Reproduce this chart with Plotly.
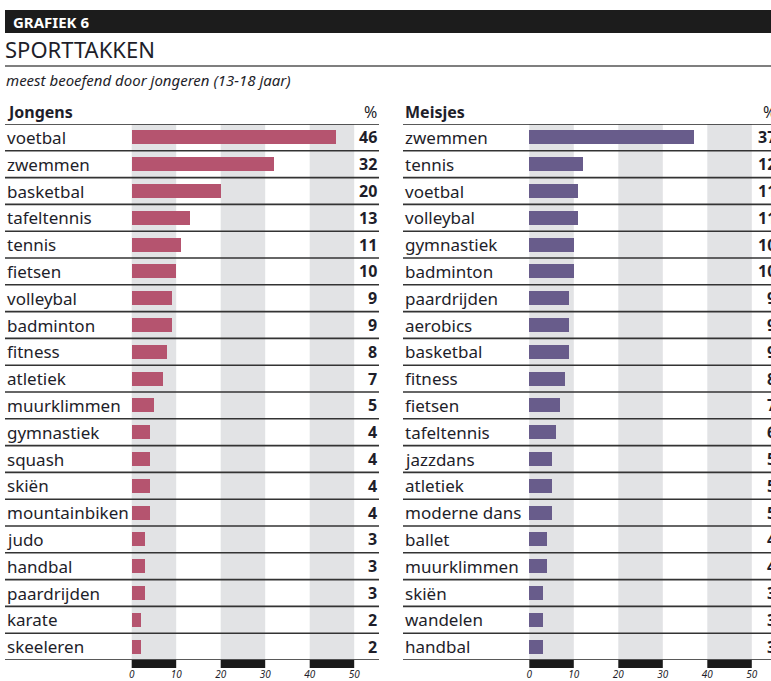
import plotly.graph_objects as go

W, H = 771, 681

boys_cats = ["voetbal", "zwemmen", "basketbal", "tafeltennis", "tennis", "fietsen",
             "volleybal", "badminton", "fitness", "atletiek", "muurklimmen", "gymnastiek",
             "squash", "skiën", "mountainbiken", "judo", "handbal", "paardrijden",
             "karate", "skeeleren"]
boys_vals = [46, 32, 20, 13, 11, 10, 9, 9, 8, 7, 5, 4, 4, 4, 4, 3, 3, 3, 2, 2]

girls_cats = ["zwemmen", "tennis", "voetbal", "volleybal", "gymnastiek", "badminton",
              "paardrijden", "aerobics", "basketbal", "fitness", "fietsen", "tafeltennis",
              "jazzdans", "atletiek", "moderne dans", "ballet", "muurklimmen", "skiën",
              "wandelen", "handbal"]
girls_vals = [37, 12, 11, 11, 10, 10, 9, 9, 9, 8, 7, 6, 5, 5, 5, 4, 4, 3, 3, 3]

tick_vals = [0, 10, 20, 30, 40, 50]
tick_text = ["0", "10", "20", "30", "40", "50"]

PINK = "#b5546f"
PURPLE = "#685c8b"
BAND = "#e2e3e5"
TXT = "#1e1e2a"
FONT = "Noto Sans"


def px(p):
    return p / W


def py(p):
    return 1 - p / H


ydom = [py(660), py(124)]
n = len(boys_cats)
rows = list(range(n))

fig = go.Figure()
fig.add_trace(go.Bar(x=boys_vals, y=rows, orientation="h", marker_color=PINK,
                     marker_line_width=0, width=0.52, xaxis="x", yaxis="y",
                     hoverinfo="skip", showlegend=False))
fig.add_trace(go.Bar(x=girls_vals, y=rows, orientation="h", marker_color=PURPLE,
                     marker_line_width=0, width=0.52, xaxis="x2", yaxis="y2",
                     hoverinfo="skip", showlegend=False))

scale = 4.45
left_dom = [px(5), px(379)]
right_dom = [px(403), 1.0]
left_range = [(5 - 131.7) / scale, (379 - 131.7) / scale]
right_range = [(403 - 529.3) / scale, (771 - 529.3) / scale]

axis_common = dict(showgrid=False, zeroline=False, showline=False, ticks="",
                   tickvals=tick_vals, ticktext=tick_text,
                   tickfont=dict(family=FONT, size=10, color=TXT, style="italic"),
                   ticklabelstandoff=7, fixedrange=True)

fig.update_layout(
    width=W, height=H,
    margin=dict(l=0, r=0, t=0, b=0, autoexpand=False),
    paper_bgcolor="white", plot_bgcolor="rgba(0,0,0,0)",
    bargap=0,
    xaxis=dict(domain=left_dom, range=left_range, anchor="y", **axis_common),
    yaxis=dict(domain=ydom, range=[n - 0.5, -0.5], visible=False, anchor="x"),
    xaxis2=dict(domain=right_dom, range=right_range, anchor="y2", **axis_common),
    yaxis2=dict(domain=ydom, range=[n - 0.5, -0.5], visible=False, anchor="x2"),
)

shapes = []
annotations = []

# header block
shapes.append(dict(type="rect", xref="paper", yref="paper", x0=px(5), x1=1.0,
                   y0=py(33), y1=py(10), fillcolor="#1c1c1c", line_width=0))
shapes.append(dict(type="line", xref="paper", yref="paper", x0=px(5), x1=1.0,
                   y0=py(66), y1=py(66), line=dict(color="#555555", width=1.5)))
annotations.append(dict(text="<b>GRAFIEK 6</b>", xref="paper", yref="paper",
                        x=px(11), y=py(22), xanchor="left", yanchor="middle",
                        showarrow=False, font=dict(family=FONT, size=15, color="white")))
annotations.append(dict(text="SPORTTAKKEN", xref="paper", yref="paper",
                        x=px(3), y=py(49), xanchor="left", yanchor="middle",
                        showarrow=False, font=dict(family=FONT, size=22, color=TXT)))
annotations.append(dict(text="<i>meest beoefend door jongeren (13-18 jaar)</i>",
                        xref="paper", yref="paper", x=px(4), y=py(80),
                        xanchor="left", yanchor="middle", showarrow=False,
                        font=dict(family=FONT, size=15, color=TXT)))

panels = [
    ("x", "y", "Jongens", boys_cats, boys_vals, 5, 379, 379),
    ("x2", "y2", "Meisjes", girls_cats, girls_vals, 403, 771, 778),
]
for xr, yr, title, cats, vals, lx0, lx1, vx in panels:
    annotations.append(dict(text="<b>" + title + "</b>", xref="paper", yref="paper",
                            x=px(lx0), y=py(112), xanchor="left", yanchor="middle",
                            showarrow=False, font=dict(family=FONT, size=16, color=TXT)))
    annotations.append(dict(text="%", xref="paper", yref="paper",
                            x=px(vx), y=py(112), xanchor="right", yanchor="middle",
                            showarrow=False, font=dict(family=FONT, size=16, color=TXT)))
    # grey bands and black bars on the axis
    for b0 in (0, 20, 40):
        shapes.append(dict(type="rect", xref=xr, yref=yr + " domain", x0=b0, x1=b0 + 10,
                           y0=0, y1=1, fillcolor=BAND, line_width=0, layer="below"))
        shapes.append(dict(type="rect", xref=xr, yref="paper", x0=b0, x1=b0 + 10,
                           y0=py(668), y1=py(660), fillcolor="#1a1a1a", line_width=0))
    # row separators
    for i in range(len(cats) + 1):
        shapes.append(dict(type="line", xref="paper", yref=yr, x0=px(lx0), x1=px(lx1),
                           y0=i - 0.5, y1=i - 0.5,
                           line=dict(color="#333333" if 0 < i < len(cats) else "#222222",
                                     width=1.6)))
    for i, (c, v) in enumerate(zip(cats, vals)):
        annotations.append(dict(text=c, xref="paper", yref=yr, x=px(lx0), y=i,
                                xanchor="left", yanchor="middle", showarrow=False,
                                font=dict(family=FONT, size=17, color=TXT)))
        annotations.append(dict(text="<b>%d</b>" % v, xref="paper", yref=yr, x=px(vx),
                                y=i, xanchor="right", yanchor="middle", showarrow=False,
                                font=dict(family=FONT, size=16, color=TXT)))

fig.update_layout(shapes=shapes, annotations=annotations)
fig.write_html("out.html", config={"displayModeBar": False},
               post_script="document.body.style.margin='0';document.body.style.padding='0';")
